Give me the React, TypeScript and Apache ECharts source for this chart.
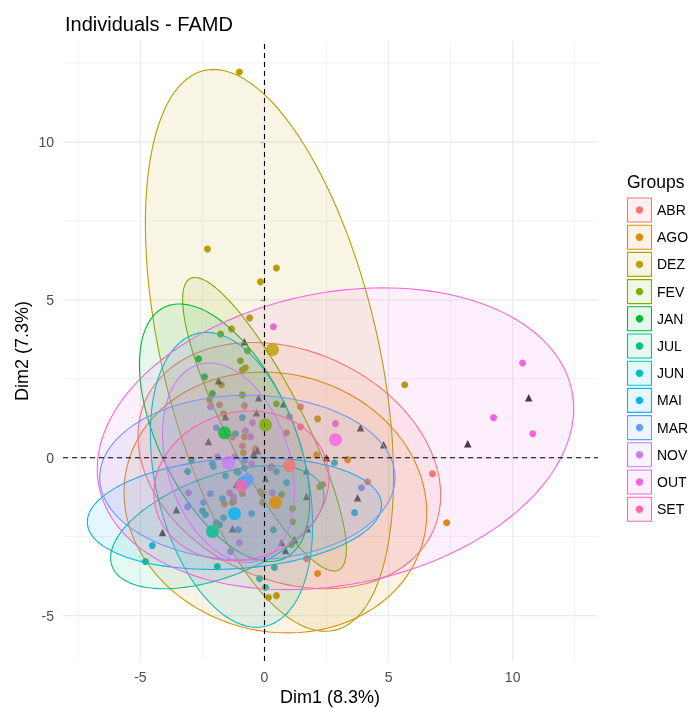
import React, { useEffect, useRef } from "react";
import * as echarts from "echarts";

const groups = ["ABR", "AGO", "DEZ", "FEV", "JAN", "JUL", "JUN", "MAI", "MAR", "NOV", "OUT", "SET"];
const groupColors = ["#F8766D", "#DE8C00", "#B79F00", "#7CAE00", "#00BA38", "#00C08B", "#00BFC4", "#00B4F0", "#619CFF", "#C77CFF", "#F564E3", "#FF64B0"];

const xTicks = [-5, 0, 5, 10];
const yTicks = [-5, 0, 5, 10];
const xMinor = [-7.5, -2.5, 2.5, 7.5, 12.5];
const yMinor = [-2.5, 2.5, 7.5, 12.5];
const xRange = [-8.12, 13.44];
const yRange = [-6.44, 13.2];

const ptsABR = [[-1.81, 1.68], [-0.81, 1.65], [1.45, 1.61], [-1.29, 0.66], [-0.89, 0.38], [-0.36, 0.28], [0.89, 0.79], [4.15, -0.76], [6.77, -0.51], [-1.25, -1.27], [1.69, -3.2]];
const ptsAGO = [[-2.22, 1.84], [-0.81, 0.66], [3.35, -0.06], [-1.61, -1.46], [-0.89, -1.14], [-0.08, -1.14], [-1.25, -1.39], [2.14, -3.67], [0.16, -4.43], [0.48, -4.37], [7.34, -2.06], [-0.16, -1.08]];
const ptsDEZ = [[-1.01, 12.22], [-2.3, 6.61], [0.48, 6.01], [-0.16, 5.57], [-0.6, 4.43], [-1.33, 4.08], [-0.77, 2.85], [-0.89, 2.78], [-1.73, 2.31], [2.14, 1.23], [5.65, 2.31], [2.1, 0.09], [-0.85, 0.16], [-1.65, 1.39], [-1.13, -0.44], [-1.29, -1.42], [-0.08, -1.42]];
const ptsFEV = [[-1.77, 3.92], [-0.69, 3.39], [-0.97, 3.07], [-0.89, 1.99], [0.48, 1.71], [0.69, -1.17], [1.13, -1.61], [1.13, -2.03], [1.09, -2.75], [2.22, -0.92], [2.34, -0.85]];
const ptsJAN = [[-2.66, 3.13], [-2.42, 2.56], [-2.1, 2.03]];
const ptsJUL = [[-1.17, 0.76], [-3.1, -0.44], [0.48, -0.44], [-2.5, -1.68], [-2.38, -1.8], [-1.81, -2.12], [0.36, -2.28], [-4.8, -3.29], [-1.9, -3.45], [-1.94, -2.06], [-2.94, -0.09]];
const ptsJUN = [[-0.89, 1.27], [-2.06, -0.28], [-1.05, -0.47], [-1.57, -0.57], [0.89, -0.79], [-1.69, -1.3], [-1.65, -1.9], [0.4, -3.48], [-0.2, -3.83], [0.04, -4.11], [-2.1, -0.19], [2.82, -0.16]];
const ptsMAI = [[-4.52, -2.78], [-0.52, -1.77], [3.63, -1.74], [-1.05, -2.28]];
const ptsMAR = [[-1.94, 0.95], [-0.81, -0.09], [-0.81, -0.32], [3.91, -0.95], [-2.18, -1.14], [-2.46, -1.42], [-3.1, -1.55], [-1.37, -2.97]];
const ptsNOV = [[-2.18, 1.61], [-0.48, 1.11], [-0.77, 0.85], [-0.56, 0.66], [-1.9, 0.03], [-1.21, 0.03], [-0.52, -0.19], [0.24, -0.32], [-3.06, -1.11], [-1.25, -1.23], [0.32, -1.11], [-1.01, -2.69]];
const ptsOUT = [[0.36, 4.15], [2.86, 1.08], [10.4, 3.0], [9.23, 1.27], [10.81, 0.76]];
const ptsSET = [[1.01, 1.3], [1.45, 0.98], [0.28, -0.28], [-1.41, -1.11]];

const groupPoints = [ptsABR, ptsAGO, ptsDEZ, ptsFEV, ptsJAN, ptsJUL, ptsJUN, ptsMAI, ptsMAR, ptsNOV, ptsOUT, ptsSET];

const qualiPts = [[-0.81, 3.67], [-1.85, 2.44], [-0.24, 1.9], [-1.57, 1.3], [-0.32, 1.42], [0.77, 1.71], [3.87, 0.95], [4.8, 0.41], [-2.26, 0.51], [-0.28, 0.22], [-0.44, 0.13], [2.5, 0.0], [1.69, -0.41], [0.04, -0.66], [-1.13, -0.85], [1.69, -1.23], [3.75, -1.27], [-3.55, -1.65], [-1.29, -2.25], [1.73, -2.25], [-4.11, -2.37], [1.21, -2.59], [0.69, -2.69], [0.85, -2.94], [10.65, 1.9], [8.19, 0.44]];

const centroidX = [1.0, 0.44, 0.32, 0.04, -1.61, -2.1, -0.85, -1.21, -0.69, -1.45, 2.86, -0.93];
const centroidY = [-0.25, -1.42, 3.42, 1.04, 0.79, -2.34, -0.8, -1.77, -0.7, -0.16, 0.57, -0.89];

const ellCx = [1.0, 0.44, 0.2, 0.0, -1.61, -1.9, -1.33, -1.21, -0.69, -1.45, 2.86, -0.93];
const ellCy = [-0.25, -1.42, 3.4, 1.06, 0.79, -2.2, -0.7, -1.77, -0.63, -0.16, 0.6, -0.89];
const ellSx = [6.1, 6.1, 5.0, 3.3, 3.43, 4.3, 3.27, 5.93, 5.95, 2.66, 9.6, 3.53];
const ellSy = [3.9, 4.13, 8.9, 4.65, 4.08, 1.95, 4.67, 1.77, 2.61, 3.16, 4.78, 2.37];
const ellRho = [-0.24, -0.08, -0.45, -0.85, -0.53, 0.5, -0.31, 0.15, 0.0, -0.29, 0.2, 0.1];

const FONT = "'Liberation Sans', Arial, sans-serif";

function hexToRgba(hex: string, a: number) {
  const r = parseInt(hex.slice(1, 3), 16);
  const g = parseInt(hex.slice(3, 5), 16);
  const b = parseInt(hex.slice(5, 7), 16);
  return `rgba(${r},${g},${b},${a})`;
}

function lineSeries(values: number[], vertical: boolean, style: any, z: number) {
  return {
    type: "custom",
    silent: true,
    z,
    data: values.map((v) => [v, 0]),
    renderItem: (params: any, api: any) => {
      const v = api.value(0);
      const p1 = vertical ? api.coord([v, yRange[0]]) : api.coord([xRange[0], v]);
      const p2 = vertical ? api.coord([v, yRange[1]]) : api.coord([xRange[1], v]);
      return {
        type: "line",
        shape: { x1: p1[0], y1: p1[1], x2: p2[0], y2: p2[1] },
        style,
      };
    },
  };
}

export default function App() {
  const ref = useRef<HTMLDivElement>(null);
  useEffect(() => {
    document.body.style.margin = "0";
    const chart = echarts.init(ref.current!, null, { renderer: "svg" });

    const majorStyle = { stroke: "#ebebeb", lineWidth: 1.3 };
    const minorStyle = { stroke: "#ebebeb", lineWidth: 0.65 };
    const dashStyle = { stroke: "#000", lineWidth: 1.1, lineDash: [5, 4] };

    const pointSeries = groups.map((g, i) => ({
      type: "scatter",
      name: g,
      silent: true,
      z: 2,
      symbol: "circle",
      symbolSize: 7,
      itemStyle: { color: groupColors[i], opacity: 1 },
      data: groupPoints[i],
    }));

    const ellipseSeries = {
      type: "custom",
      silent: true,
      z: 3,
      data: groups.map((g, i) => [i, 0]),
      renderItem: (params: any, api: any) => {
        const i = api.value(0);
        const cx = ellCx[i], cy = ellCy[i], sx = ellSx[i], sy = ellSy[i], r = ellRho[i];
        const s = Math.sqrt(1 - r * r);
        const pts: number[][] = [];
        const n = 160;
        for (let k = 0; k <= n; k++) {
          const t = (k / n) * Math.PI * 2;
          pts.push(api.coord([cx + sx * Math.cos(t), cy + sy * (r * Math.cos(t) + s * Math.sin(t))]));
        }
        return {
          type: "polygon",
          z2: i,
          shape: { points: pts },
          style: { fill: hexToRgba(groupColors[i], 0.1), stroke: groupColors[i], lineWidth: 1.1 },
        };
      },
    };

    const centroidSeries = {
      type: "scatter",
      silent: true,
      z: 5,
      symbol: "circle",
      symbolSize: 13,
      data: groups.map((g, i) => ({ value: [centroidX[i], centroidY[i]], itemStyle: { color: groupColors[i] } })),
    };

    const qualiSeries = {
      type: "scatter",
      silent: true,
      z: 2,
      symbol: "triangle",
      symbolSize: 7.5,
      itemStyle: { color: "#000" },
      data: qualiPts,
    };

    const legendTop = 210;
    const legendStep = 27.2;
    const legendGraphics: any[] = [
      { type: "text", left: 627, top: 173, style: { text: "Groups", font: `17.5px ${FONT}`, fill: "#000" } },
    ];
    groups.forEach((g, i) => {
      const cy = legendTop + legendStep * i;
      legendGraphics.push({
        type: "rect",
        shape: { x: 627.5, y: cy - 12, width: 24, height: 24 },
        style: { fill: hexToRgba(groupColors[i], 0.1), stroke: groupColors[i], lineWidth: 1.1 },
      });
      legendGraphics.push({
        type: "circle",
        shape: { cx: 639.5, cy, r: 3.7 },
        style: { fill: groupColors[i] },
      });
      legendGraphics.push({
        type: "text",
        x: 657,
        y: cy,
        style: { text: g, font: `14px ${FONT}`, fill: "#000", verticalAlign: "middle", align: "left" },
      });
    });

    const axisCommon = {
      type: "value",
      axisLine: { show: false },
      splitLine: { show: false },
      axisTick: { show: true, length: 4, lineStyle: { color: "#333", width: 1.1 } },
      axisLabel: { color: "#4d4d4d", fontSize: 14, fontFamily: FONT, margin: 9 },
    };

    chart.setOption({
      animation: false,
      textStyle: { fontFamily: FONT },
      grid: { left: 63, right: 90, top: 41, bottom: 47, containLabel: false },
      xAxis: {
        ...axisCommon,
        min: xRange[0],
        max: xRange[1],
        axisTick: { ...axisCommon.axisTick, customValues: xTicks },
        axisLabel: { ...axisCommon.axisLabel, customValues: xTicks },
      },
      yAxis: {
        ...axisCommon,
        min: yRange[0],
        max: yRange[1],
        axisTick: { ...axisCommon.axisTick, customValues: yTicks },
        axisLabel: { ...axisCommon.axisLabel, customValues: yTicks },
      },
      graphic: [
        { type: "text", x: 65, y: 24, style: { text: "Individuals - FAMD", font: `20px ${FONT}`, fill: "#000", verticalAlign: "middle" } },
        { type: "text", x: 330, y: 697, style: { text: "Dim1 (8.3%)", font: `18px ${FONT}`, fill: "#000", align: "center", verticalAlign: "middle" } },
        { type: "text", x: 22, y: 351, rotation: Math.PI / 2, style: { text: "Dim2 (7.3%)", font: `18px ${FONT}`, fill: "#000", align: "center", verticalAlign: "middle" } },
        ...legendGraphics,
      ],
      series: [
        lineSeries(xMinor, true, minorStyle, 1),
        lineSeries(yMinor, false, minorStyle, 1),
        lineSeries(xTicks, true, majorStyle, 1),
        lineSeries(yTicks, false, majorStyle, 1),
        ...pointSeries,
        qualiSeries,
        ellipseSeries,
        lineSeries([0], true, dashStyle, 4),
        lineSeries([0], false, dashStyle, 4),
        centroidSeries,
      ],
    });
    return () => chart.dispose();
  }, []);
  return <div ref={ref} style={{ position: "fixed", left: 0, top: 0, width: 688, height: 708 }} />;
}
